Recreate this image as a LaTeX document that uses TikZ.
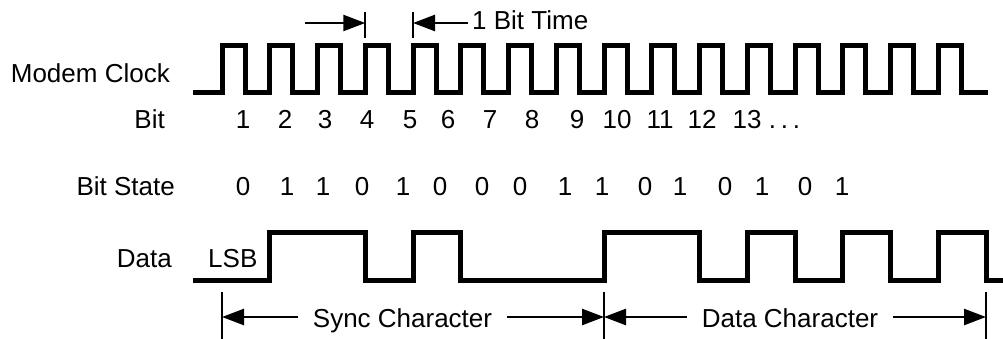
\documentclass[tikz,border=0pt]{standalone}
\usepackage{fontspec}
\setmainfont{Liberation Sans}
\usetikzlibrary{arrows.meta, positioning}

\begin{document}
\begin{tikzpicture}[
  x=1pt, y=-1pt,
  lbl/.style={inner sep=0pt, anchor=base, font=\fontsize{26}{30}\selectfont},
  wave/.style={line width=5pt},
  dim/.style={-{Triangle[length=22pt,width=16pt]}, line width=2.5pt},
  tick/.style={line width=2pt}]
  \useasboundingbox (0,0) rectangle (1003,339);
  % row labels
  \node[lbl, anchor=base east] (clk) at (170,83) {Modem Clock};
  \node[lbl, anchor=base east] (bit) at (165,129) {Bit};
  \node[lbl, anchor=base east] (state) at (175,195) {Bit State};
  \node[lbl, anchor=base east] (data) at (172,267) {Data};
  \node[lbl, anchor=base west] (lsb) at (208,267) {LSB};

  % modem clock
  \draw[wave] (193,93) \foreach \k in {0,...,15} {
    -- ({222+\k*47.75},93) -- ++(0,-47) -- ++(23,0) -- ++(0,47) } -- (988,93);

  % bit numbers
  \foreach \x/\n in {243/1,285/2,325/3,367/4,410/5,448/6,490/7,532/8,577/9,
                     617/10,660/11,702/12,747/13}
    \node[lbl] (b\n) at (\x,129) {\n};
  \node[lbl, base right=7pt of b13] (bdots) {.\hspace{4.8pt}.\hspace{4.8pt}.};

  % bit states
  \foreach \x/\s [count=\i] in {243/0,287/1,323/1,362/0,403/1,440/0,482/0,520/0,
                                565/1,602/1,645/0,680/1,725/0,762/1,805/0,842/1}
    \node[lbl] (s\i) at (\x,195) {\s};

  % data line
  \draw[wave] (193,280) \foreach \k/\lev in {1/232,3/280,4/232,5/280,8/232,10/280,
                                            11/232,12/280,13/232,14/280,15/232,16/280} {
    -| ({222+\k*47.75},\lev) } -- (1003,280);

  % one bit time
  \coordinate (t1) at (365.25,23);
  \coordinate (t2) at (413,23);
  \coordinate (a1) at (305,23);
  \draw[tick] (t1) ++(0,-11) -- ++(0,26);
  \draw[tick] (t2) ++(0,-11) -- ++(0,26);
  \node[lbl, anchor=base west, inner xsep=4pt] (bt) at (468,30) {1 Bit Time};
  \draw[dim] (a1) -- (t1);
  \draw[dim] (bt.west |- t2) -- (t2);

  % characters
  \foreach \k in {0,8,16} {
    \coordinate (c\k) at ({222+\k*47.75},317);
    \draw[tick] (c\k) ++(0,-25) -- ++(0,47);
  }
  \node[lbl, inner xsep=15pt] (sync) at (402.5,327) {Sync Character};
  \node[lbl, inner xsep=15pt] (dchar) at (790,327) {Data Character};
  \draw[dim] (sync.west |- c0) -- (c0);
  \draw[dim] (sync.east |- c8) -- (c8);
  \draw[dim] (dchar.west |- c8) -- (c8);
  \draw[dim] (dchar.east |- c16) -- (c16);
\end{tikzpicture}
\end{document}
